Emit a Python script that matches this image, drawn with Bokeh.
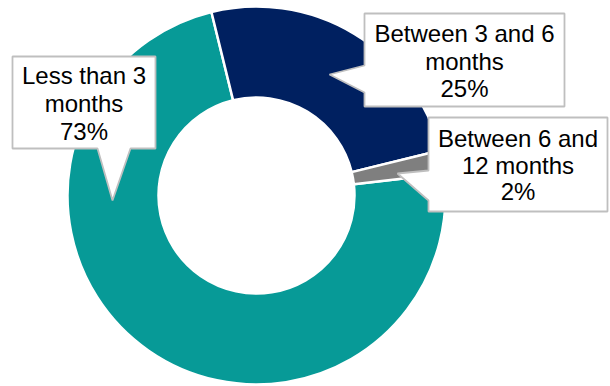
from bokeh.plotting import figure
from bokeh.models import Range1d, ColumnDataSource
from bokeh.core.properties import value
from bokeh.embed import file_html
from bokeh.resources import INLINE

# ---- data ----
categories = ["Less than 3 months", "Between 3 and 6 months", "Between 6 and 12 months"]
values = [73, 25, 2]
colors = ["#079A97", "#002060", "#7F7F7F"]
label_lines = [["Less than 3", "months"], ["Between 3 and 6", "months"], ["Between 6 and", "12 months"]]

# ---- layout (reference pixel coords, y measured downwards) ----
W, H = 610, 386
def Y(y):
    return H - y

CX, CY = 256.0, 195.0
R_IN, R_OUT = 98.0, 189.0
FIRST_ANGLE = 6.6  # degrees, math convention; slices run clockwise
TEXT_SHIFT = 9.0   # renderer baseline correction (px)

callouts = [
    dict(poly=[(12, 56), (155, 56), (155, 148), (130, 148), (112, 200), (97, 148), (12, 148)],
         cx=83.5, base=[84, 112, 140]),
    dict(poly=[(364, 13), (564, 13), (564, 106), (364, 106), (364, 92), (329, 74), (364, 65)],
         cx=464.0, base=[42, 69.5, 97]),
    dict(poly=[(428, 117), (607, 117), (607, 211), (428, 211), (428, 200), (397, 173), (428, 170)],
         cx=517.5, base=[147, 173.5, 200]),
]

p = figure(width=W, height=H,
           x_range=Range1d(0, W), y_range=Range1d(0, H),
           x_axis_type=None, y_axis_type=None,
           output_backend="svg", toolbar_location=None, min_border=0)
p.grid.visible = False
p.outline_line_color = None
p.background_fill_color = "white"
p.border_fill_color = "white"

total = float(sum(values))
starts, ends = [], []
a = FIRST_ANGLE
for v in values:
    starts.append(a)
    a = a - v / total * 360.0
    ends.append(a)

src = ColumnDataSource(dict(cat=categories, val=values, color=colors,
                            start=starts, end=ends,
                            x=[CX] * len(values), y=[Y(CY)] * len(values)))
p.annular_wedge(x="x", y="y", inner_radius=R_IN, outer_radius=R_OUT,
                start_angle="start", end_angle="end", start_angle_units="deg",
                end_angle_units="deg", direction="clock",
                fill_color="color", line_color="white", line_width=2.5, source=src)

tx, ty, tt = [], [], []
for i, c in enumerate(callouts):
    xs = [pt[0] for pt in c["poly"]]
    ys = [Y(pt[1]) for pt in c["poly"]]
    p.patch(xs, ys, fill_color="white", line_color="#BFBFBF", line_width=1.8)
    lines = label_lines[i] + [f"{values[i]}%"]
    for ln, b in zip(lines, c["base"]):
        tx.append(c["cx"]); ty.append(Y(b - TEXT_SHIFT)); tt.append(ln)

p.text(x=tx, y=ty, text=tt, text_font=value("Liberation Sans"), text_font_size="24px",
       text_align="center", text_baseline="alphabetic", text_color="black")

open("out.html", "w").write(file_html(p, INLINE))
